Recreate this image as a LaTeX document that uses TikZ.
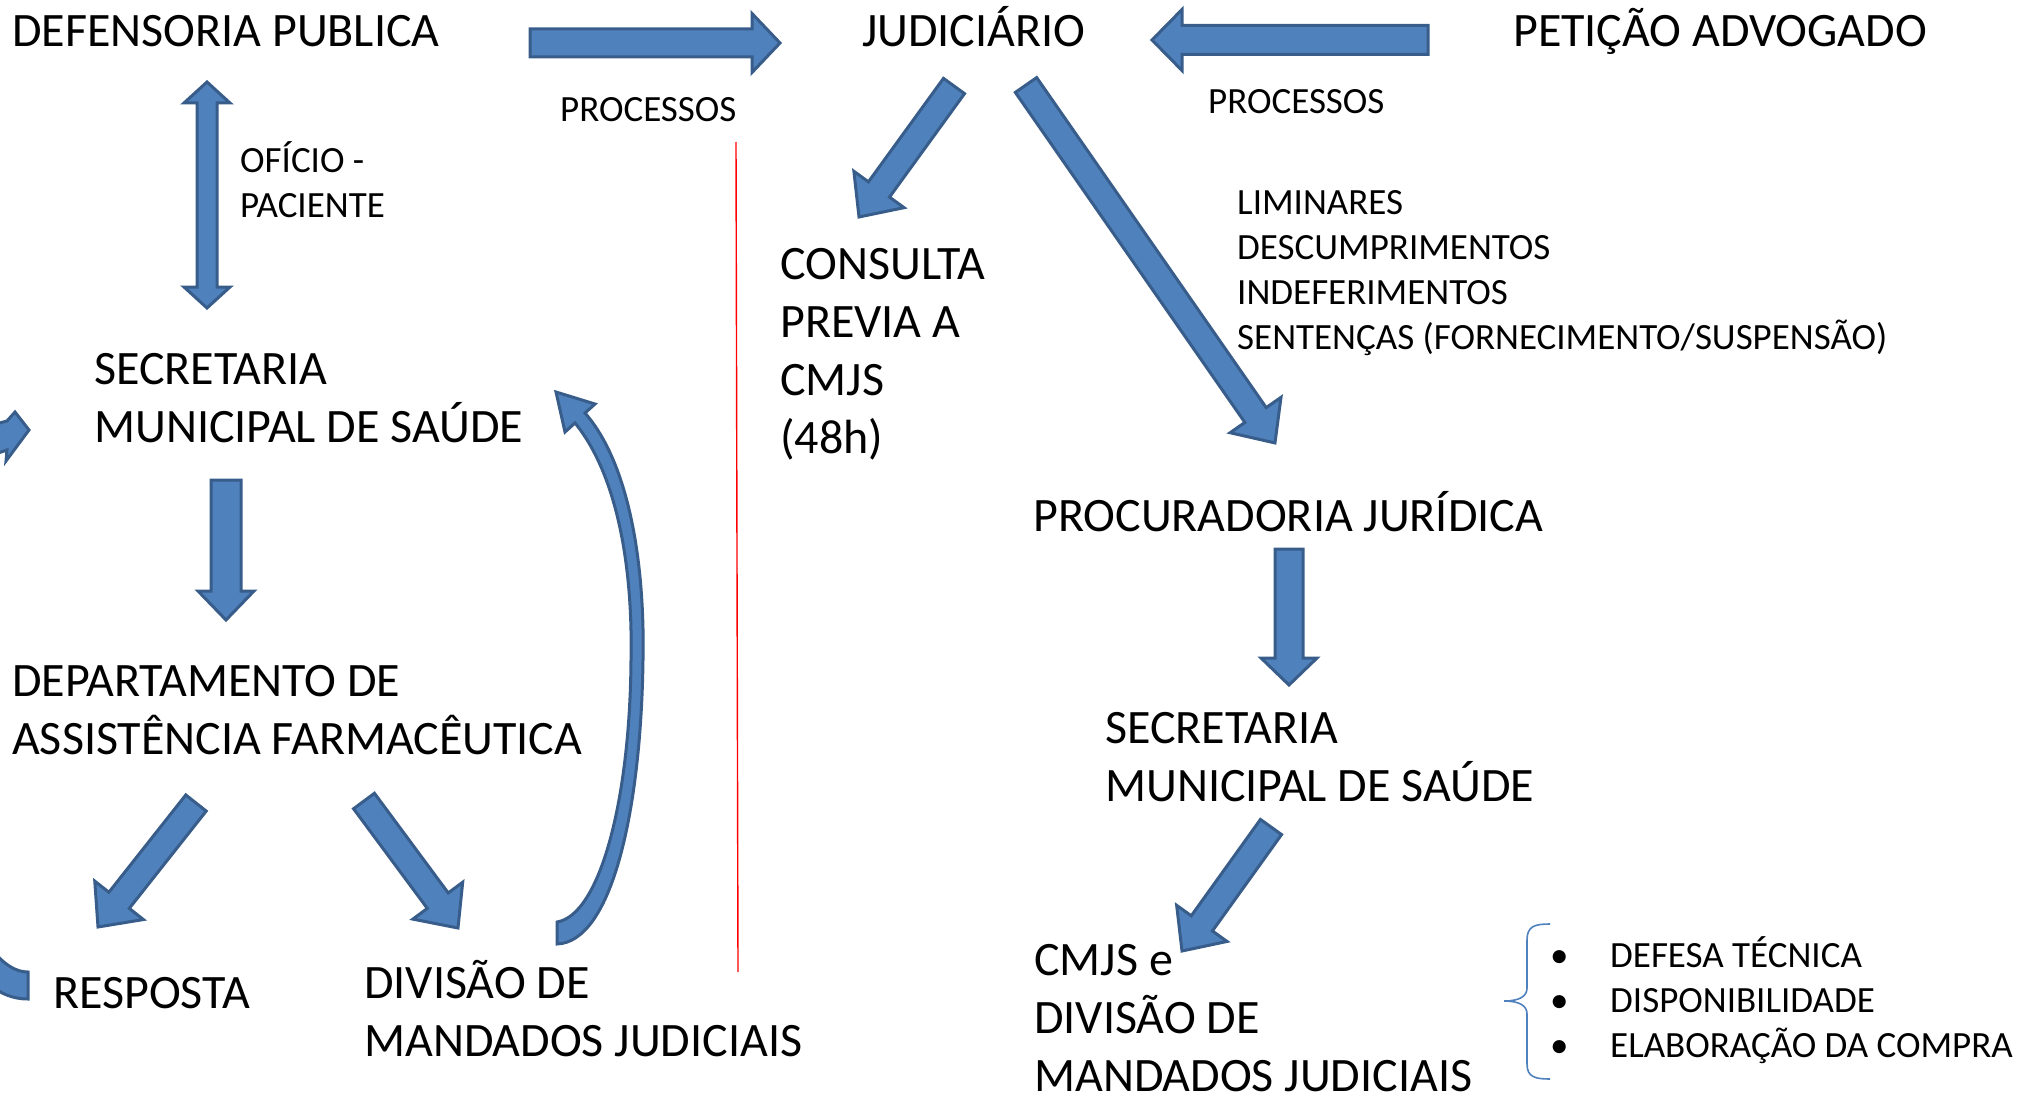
\documentclass[tikz,border=0pt]{standalone}
\usepackage{fontspec}
\setmainfont{Carlito}
\usetikzlibrary{calc}
\definecolor{arrfill}{HTML}{4F81BD}
\definecolor{arrline}{HTML}{385D8A}
\tikzset{
  big/.style={font=\fontsize{48}{58}\selectfont, anchor=base west, inner sep=0pt, align=left},
  small/.style={font=\fontsize{37}{44.7}\selectfont, anchor=base west, inner sep=0pt, align=left},
  barr/.style={fill=arrfill, draw=arrline, line width=3pt, line join=miter},
  bracestyle/.style={draw=arrfill, line width=1.6pt},
  redline/.style={draw=red, line width=1.4pt},
}
\newdimen\barax \newdimen\baray \newdimen\barbx \newdimen\barby
\newcommand{\bargeom}[2]{%
  \pgfextractx{\barax}{\pgfpointanchor{#1}{center}}%
  \pgfextracty{\baray}{\pgfpointanchor{#1}{center}}%
  \pgfextractx{\barbx}{\pgfpointanchor{#2}{center}}%
  \pgfextracty{\barby}{\pgfpointanchor{#2}{center}}%
  \pgfmathsetmacro\barang{atan2(\barby-\baray,\barbx-\barax)}%
  \pgfmathsetmacro\barlen{veclen(\barbx-\barax,\barby-\baray)}%
}
% #1 start, #2 end, #3 shaft half width, #4 head half width, #5 head length
\newcommand{\blockarr}[5]{%
  \bargeom{#1}{#2}%
  \begin{scope}[shift={(#1)}, rotate=\barang]
    \draw[barr] (0,-#3) -- ({\barlen-#5},-#3) -- ({\barlen-#5},-#4) -- (\barlen,0)
      -- ({\barlen-#5},#4) -- ({\barlen-#5},#3) -- (0,#3) -- cycle;
  \end{scope}}
\newcommand{\blockarrD}[5]{%
  \bargeom{#1}{#2}%
  \begin{scope}[shift={(#1)}, rotate=\barang]
    \draw[barr] (#5,-#3) -- ({\barlen-#5},-#3) -- ({\barlen-#5},-#4) -- (\barlen,0)
      -- ({\barlen-#5},#4) -- ({\barlen-#5},#3) -- (#5,#3) -- (#5,#4) -- (0,0) -- (#5,-#4) -- cycle;
  \end{scope}}
\begin{document}
\begin{tikzpicture}[x=1pt,y=-1pt]
\useasboundingbox (0,0) rectangle (2024,1097);
\clip (0,0) rectangle (2024,1097);

% ---- text nodes (multi-line nodes are placed by the baseline of their last line) ----
\node[big] (def) at (12,47) {DEFENSORIA PUBLICA};
\node[big] (jud) at (862,47) {JUDICIÁRIO};
\node[big] (pet) at (1513,47) {PETIÇÃO ADVOGADO};
\node[small] (proc1) at (560,122) {PROCESSOS};
\node[small] (proc2) at (1208,114) {PROCESSOS};
\node[small] (ofi) at (240,217) {OFÍCIO -\\PACIENTE};
\node[big] (sms1) at (94,442) {SECRETARIA\\MUNICIPAL DE SAÚDE};
\node[big] (cons) at (780,453) {CONSULTA\\PREVIA A\\CMJS\\(48h)};
\node[small] (lim) at (1237,349) {LIMINARES\\DESCUMPRIMENTOS\\INDEFERIMENTOS\\SENTENÇAS (FORNECIMENTO/SUSPENSÃO)};
\node[big] (procj) at (1033,531) {PROCURADORIA JURÍDICA};
\node[big] (daf) at (12,754) {DEPARTAMENTO DE\\ASSISTÊNCIA FARMACÊUTICA};
\node[big] (sms2) at (1105,801) {SECRETARIA\\MUNICIPAL DE SAÚDE};
\node[big] (resp) at (53,1008) {RESPOSTA};
\node[big] (dmj) at (364,1056) {DIVISÃO DE\\MANDADOS JUDICIAIS};
\node[big] (cmjs) at (1034,1091) {CMJS e\\DIVISÃO DE\\MANDADOS JUDICIAIS};
\node[small] (bul) at (1550,1057) {\makebox[60pt][l]{•}DEFESA TÉCNICA\\\makebox[60pt][l]{•}DISPONIBILIDADE\\\makebox[60pt][l]{•}ELABORAÇÃO DA COMPRA};

% ---- arrow end points ----
\coordinate (a1s) at (530,43);   \coordinate (a1e) at (780,43);
\coordinate (a2s) at (1428,40);  \coordinate (a2e) at (1152,40);
\coordinate (a3s) at (207,82);   \coordinate (a3e) at (207,308);
\coordinate (a4s) at (226,480);  \coordinate (a4e) at (226,620);
\coordinate (a5s) at (1289,549); \coordinate (a5e) at (1289,685);
\coordinate (a6s) at (954,86);   \coordinate (a6e) at (859,217);
\coordinate (a7s) at (1026,85);  \coordinate (a7e) at (1275,443);
\coordinate (a8s) at (1271,827); \coordinate (a8e) at (1182,951);
\coordinate (a9s) at (196,803);  \coordinate (a9e) at (98,927);
\coordinate (a10s) at (364,801); \coordinate (a10e) at (458,928);

\blockarr{a1s}{a1e}{14}{29.5}{28}
\blockarr{a2s}{a2e}{14.5}{30.5}{30}
\blockarrD{a3s}{a3e}{10}{23}{21}
\blockarr{a4s}{a4e}{15}{28}{29}
\blockarr{a5s}{a5e}{14}{28}{27}
\blockarr{a6s}{a6e}{13}{31}{34}
\blockarr{a7s}{a7e}{13}{31}{34}
\blockarr{a8s}{a8e}{13}{31}{34}
\blockarr{a9s}{a9e}{13}{31}{34}
\blockarr{a10s}{a10e}{13}{31}{34}

% ---- curved arrow: DIVISAO -> SECRETARIA ----
\draw[barr] (585,413) .. controls (628,462) and (645,560) .. (643,660)
  .. controls (641,810) and (612,942) .. (557,944)
  -- (557,922) .. controls (600,915) and (630,800) .. (631,660)
  .. controls (633,560) and (615,472) .. (575,423)
  -- (565,432) -- (556,392) -- (595,404) -- cycle;

% ---- partial shapes at left edge ----
\draw[barr] (-8,425) -- (7,421) -- (15,412) -- (29,430) -- (6,461) -- (7,450) -- (-8,455) -- cycle;
\draw[barr] (-8,950) .. controls (4,964) and (15,972) .. (28,972) -- (28,999)
  .. controls (12,999) and (0,993) .. (-8,986) -- cycle;

% ---- red separator ----
\coordinate (r1) at (736,142); \coordinate (r2) at (738,972);
\draw[redline] (r1) -- (r2);

% ---- brace ----
\coordinate (bt) at (1550,924); \coordinate (bb) at (1550,1079);
\draw[bracestyle] (bt) .. controls (1535,924) and (1527,926) .. (1527,940) -- (1527,988)
  .. controls (1527,996) and (1520,1001) .. (1504,1001)
  .. controls (1520,1001) and (1527,1006) .. (1527,1014) -- (1527,1064)
  .. controls (1527,1077) and (1535,1079) .. (bb);
\end{tikzpicture}
\end{document}
